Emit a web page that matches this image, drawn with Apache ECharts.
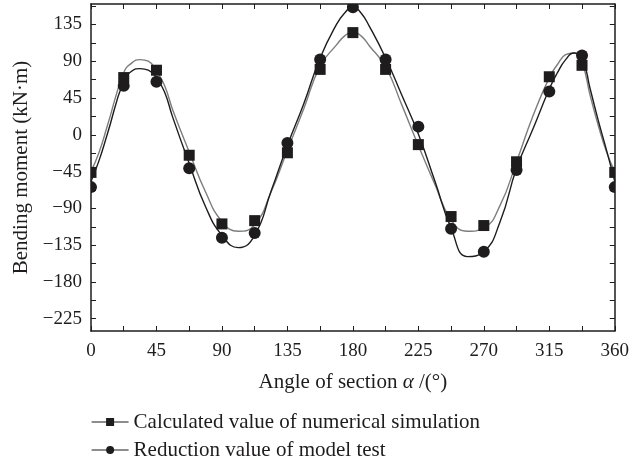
<!DOCTYPE html>
<html>
<head>
<meta charset="utf-8">
<script src="https://cdn.jsdelivr.net/npm/echarts@6/dist/echarts.min.js"></script>
<style>
  html, body { margin: 0; padding: 0; background: #fff; }
  #chart { width: 632px; height: 464px; }
</style>
</head>
<body>
<div id="chart"></div>
<script>
// measured points, every 22.5 deg
var angles = [0, 22.5, 45, 67.5, 90, 112.5, 135, 157.5, 180, 202.5, 225, 247.5, 270, 292.5, 315, 337.5, 360];
var calcValues = [-46, 70, 79, -25, -109, -105, -22, 80, 125, 80, -12, -100, -111, -33, 71, 85, -46];
var testValues = [-64, 60, 65, -41, -126, -120, -10, 92, 156, 92, 10, -115, -143, -43, 53, 97, -64];

// fitted curves (denser near the peaks)
var curveAngles = [0, 5.625, 11.25, 22.5, 28.125, 33.75, 39.375, 45, 50.625, 56.25, 67.5, 78.75, 90, 101.25, 112.5,
  123.75, 135, 146.25, 157.5, 168.75, 174.375, 180, 185.625, 191.25, 202.5, 213.75, 225, 236.25, 247.5, 258.75,
  270, 281.25, 292.5, 303.75, 315, 320.625, 326.25, 331.875, 337.5, 343.125, 348.75, 354.375, 360];
var calcCurve = [-45, -21, 11, 76, 88, 92, 90, 78, 60, 30, -21, -70, -106, -118, -110,
  -70, -19, 32, 84, 110, 121, 126, 121, 109, 83, 36, -13, -60, -104, -118,
  -114, -86, -33, 23, 70, 86, 98, 100, 88, 48, 11, -21, -45];
var testCurve = [-57, -31, 1, 66, 78, 81, 79, 70, 52, 21, -35, -88, -123, -138, -123,
  -69, -13, 38, 94, 135, 149, 157, 149, 133, 94, 48, 1, -56, -114, -149,
  -143, -106, -41, 7, 56, 76, 92, 100, 94, 56, 17, -19, -57];

var yLabels = [-225, -180, -135, -90, -45, 0, 45, 90, 135];
var yTicks = [];
for (var t = -225; t <= 157.5; t += 22.5) yTicks.push(t);

var calcName = 'Calculated value of numerical simulation';
var testName = 'Reduction value of model test';

function pairs(xs, ys) {
  return xs.map(function (x, i) { return [x, ys[i]]; });
}

var ink = '#1e1c1c';
var font = 'Liberation Serif';
var minus = function (v) { return String(v).replace('-', '\u2212'); };

var tickStyle = { show: true, inside: true, length: 5, lineStyle: { color: ink, width: 1 } };
var lineAxis = { show: true, onZero: false, lineStyle: { color: ink, width: 1.5 } };
var minor = { show: true, splitNumber: 2, length: 5, lineStyle: { color: ink, width: 1 } };

// markers drawn through the grid's scale, clipped to the plot box
function marker(kind, size) {
  return function (params, api) {
    var p = api.coord([api.value(0), api.value(1)]);
    if (kind === 'rect') {
      return { type: 'rect', shape: { x: p[0] - size / 2, y: p[1] - size / 2, width: size, height: size }, style: { fill: ink } };
    }
    return { type: 'circle', shape: { cx: p[0], cy: p[1], r: size / 2 }, style: { fill: ink } };
  };
}

var chart = echarts.init(document.getElementById('chart'));
chart.setOption({
  animation: false,
  grid: { left: 91, right: 14, top: 4, bottom: 133 },
  legend: {
    orient: 'vertical',
    left: 91,
    top: 411,
    padding: 0,
    itemGap: 6,
    itemWidth: 37,
    itemHeight: 10,
    textStyle: { fontFamily: font, fontSize: 21, lineHeight: 22, color: ink },
    data: [
      { name: calcName, lineStyle: { color: ink, width: 1.2 }, itemStyle: { color: ink } },
      { name: testName, lineStyle: { color: ink, width: 1.2 }, itemStyle: { color: ink } }
    ]
  },
  xAxis: [{
    type: 'value', min: 0, max: 360, interval: 45,
    name: 'Angle of section {i|\u03b1} /(\u00b0)',
    nameLocation: 'middle', nameGap: 41,
    nameTextStyle: { fontFamily: font, fontSize: 21, color: ink, rich: { i: { fontFamily: font, fontSize: 21, fontStyle: 'italic', color: ink } } },
    axisLine: lineAxis, axisTick: tickStyle, minorTick: minor,
    axisLabel: { fontFamily: font, fontSize: 19, color: ink, margin: 11 },
    splitLine: { show: false }
  }, {
    type: 'value', min: 0, max: 360, interval: 45, position: 'top',
    axisLine: lineAxis, axisTick: tickStyle, minorTick: minor,
    axisLabel: { show: false }, splitLine: { show: false }
  }],
  yAxis: [{
    type: 'value', min: -240, max: 160,
    name: 'Bending moment (kN\u00b7m)',
    nameLocation: 'middle', nameGap: 55,
    nameTextStyle: { fontFamily: font, fontSize: 21, color: ink },
    axisLine: lineAxis,
    axisTick: Object.assign({ customValues: yTicks }, tickStyle),
    axisLabel: { customValues: yLabels, formatter: minus, fontFamily: font, fontSize: 19, color: ink, margin: 9 },
    splitLine: { show: false }
  }, {
    type: 'value', min: -240, max: 160, position: 'right',
    axisLine: lineAxis,
    axisTick: Object.assign({ customValues: yTicks }, tickStyle),
    axisLabel: { show: false }, splitLine: { show: false }
  }],
  series: [{
    name: calcName, type: 'line', smooth: 0.5,
    symbol: 'rect', showSymbol: false,
    data: pairs(curveAngles, calcCurve),
    lineStyle: { color: '#7d7d7d', width: 1.4 },
    itemStyle: { color: ink }, z: 2
  }, {
    name: testName, type: 'line', smooth: 0.5,
    symbol: 'circle', showSymbol: false,
    data: pairs(curveAngles, testCurve),
    lineStyle: { color: ink, width: 1.4 },
    itemStyle: { color: ink }, z: 3
  }, {
    name: 'calc points', type: 'custom', clip: true,
    renderItem: marker('rect', 11),
    encode: { x: 0, y: 1 },
    data: pairs(angles, calcValues), z: 4
  }, {
    name: 'test points', type: 'custom', clip: true,
    renderItem: marker('circle', 12),
    encode: { x: 0, y: 1 },
    data: pairs(angles, testValues), z: 5
  }]
});
</script>
</body>
</html>
